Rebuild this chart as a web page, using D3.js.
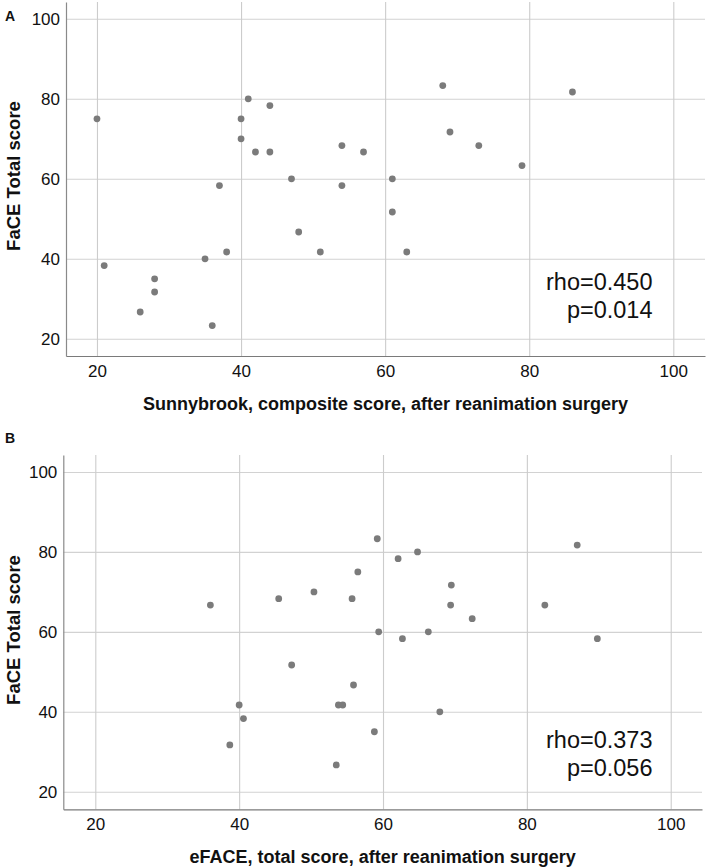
<!DOCTYPE html>
<html>
<head>
<meta charset="utf-8">
<script src="https://cdn.jsdelivr.net/npm/d3@7"></script>
<style>
  html, body { margin: 0; padding: 0; background: #fff; }
  svg { display: block; font-family: "Liberation Sans", Arial, sans-serif; }
</style>
</head>
<body>
<svg id="chart" width="708" height="868"></svg>
<script>
// ---- Data ----
const tickValues = [20, 40, 60, 80, 100];

// Panel A: Sunnybrook composite score vs FaCE total score
const sunnybrookScore = [20, 21, 26, 28, 28, 35, 36, 37, 38, 40, 40, 41, 42, 44, 44, 47, 48, 51, 54, 54, 57, 61, 61, 63, 68, 69, 73, 79, 86];
const faceScoreA      = [75, 38.3, 26.7, 35, 31.7, 40, 23.3, 58.3, 41.7, 75, 70, 80, 66.7, 78.3, 66.7, 60, 46.7, 41.7, 68.3, 58.3, 66.7, 60, 51.7, 41.7, 83.3, 71.7, 68.3, 63.3, 81.7];

// Panel B: eFACE total score vs FaCE total score
const efaceScore = [36, 38.7, 40, 40.6, 45.5, 47.3, 50.4, 53.5, 53.8, 54.4, 55.7, 55.9, 56.5, 58.8, 59.2, 59.4, 62.1, 62.7, 64.8, 66.3, 67.9, 69.4, 69.5, 72.4, 82.5, 87, 89.8];
const faceScoreB = [66.7, 31.7, 41.7, 38.3, 68.3, 51.7, 70, 26.7, 41.7, 41.7, 68.3, 46.7, 75, 35, 83.3, 60, 78.3, 58.3, 80, 60, 40, 66.7, 71.7, 63.3, 66.7, 81.7, 58.3];

const panelLabels = ["A", "B"];
const xTitles = ["Sunnybrook, composite score, after reanimation surgery", "eFACE, total score, after reanimation surgery"];
const yTitle = "FaCE Total score";
const statLines = [["rho=0.450", "p=0.014"], ["rho=0.373", "p=0.056"]];

// ---- Layout ----
const svg = d3.select("#chart");

const panels = [
  { xs: sunnybrookScore, ys: faceScoreA, label: panelLabels[0], xTitle: xTitles[0], stats: statLines[0],
    xDom: [15.7, 104.4], left: 66, right: 705, yDom: [15.7, 104.2], top: 2, bottom: 356,
    labelY: 21, titleY: 410, statY: 290.3, yTitleY: 176 },
  { xs: efaceScore, ys: faceScoreB, label: panelLabels[1], xTitle: xTitles[1], stats: statLines[1],
    xDom: [15.55, 104.35], left: 63.3, right: 702, yDom: [15.6, 104.25], top: 455, bottom: 809.3,
    labelY: 443, titleY: 862.5, statY: 748.3, yTitleY: 630 }
];

panels.forEach(p => {
  const x = d3.scaleLinear().domain(p.xDom).range([p.left, p.right]);
  const y = d3.scaleLinear().domain(p.yDom).range([p.bottom, p.top]);
  const g = svg.append("g");

  // horizontal gridlines
  const yGrid = g.append("g")
    .attr("transform", `translate(${p.left},0)`)
    .call(d3.axisLeft(y).tickValues(tickValues).tickSize(-(p.right - p.left)).tickFormat(""));
  yGrid.select(".domain").remove();
  yGrid.selectAll("line").attr("stroke", "#d2d2d2").attr("stroke-width", 1.1);

  // vertical gridlines
  const xGrid = g.append("g")
    .attr("transform", `translate(0,${p.bottom})`)
    .call(d3.axisBottom(x).tickValues(tickValues).tickSize(-(p.bottom - p.top)).tickFormat(""));
  xGrid.select(".domain").remove();
  xGrid.selectAll("line").attr("stroke", "#cccccc").attr("stroke-width", 1.1);

  // y axis with labels
  const yAxis = g.append("g")
    .attr("transform", `translate(${p.left},0)`)
    .call(d3.axisLeft(y).tickValues(tickValues).tickSize(0).tickPadding(6));
  yAxis.select(".domain").attr("stroke", "#8a8a8a").attr("stroke-width", 1.2);
  yAxis.selectAll("text").attr("font-size", 17).attr("fill", "#111")
    .attr("font-family", "'Liberation Sans', Arial, sans-serif");

  // x axis with labels
  const xAxis = g.append("g")
    .attr("transform", `translate(0,${p.bottom})`)
    .call(d3.axisBottom(x).tickValues(tickValues).tickSize(0).tickPadding(9));
  xAxis.select(".domain").attr("stroke", "#7a7a7a").attr("stroke-width", 1.2);
  xAxis.selectAll("text").attr("font-size", 17).attr("fill", "#111")
    .attr("font-family", "'Liberation Sans', Arial, sans-serif");

  // points
  g.append("g").selectAll("circle")
    .data(p.xs.map((v, i) => [v, p.ys[i]]))
    .join("circle")
    .attr("cx", d => x(d[0]))
    .attr("cy", d => y(d[1]))
    .attr("r", 3.4)
    .attr("fill", "#7b7b7b");

  // statistics
  const st = g.append("text")
    .attr("text-anchor", "end")
    .attr("font-size", 23.5)
    .attr("fill", "#111");
  p.stats.forEach((s, i) => {
    st.append("tspan").attr("x", 652.5).attr("y", p.statY + i * 28).text(s);
  });

  // panel label
  g.append("text")
    .attr("x", 5).attr("y", p.labelY)
    .attr("font-size", 14).attr("font-weight", "bold").attr("fill", "#111")
    .text(p.label);

  // x title
  g.append("text")
    .attr("x", (p.left + p.right) / 2).attr("y", p.titleY)
    .attr("text-anchor", "middle")
    .attr("font-size", 18).attr("font-weight", "bold").attr("fill", "#111")
    .text(p.xTitle);

  // y title
  g.append("text")
    .attr("transform", `translate(19.5,${p.yTitleY}) rotate(-90)`)
    .attr("text-anchor", "middle")
    .attr("font-size", 18.5).attr("font-weight", "bold").attr("fill", "#111")
    .text(yTitle);
});
</script>
</body>
</html>
